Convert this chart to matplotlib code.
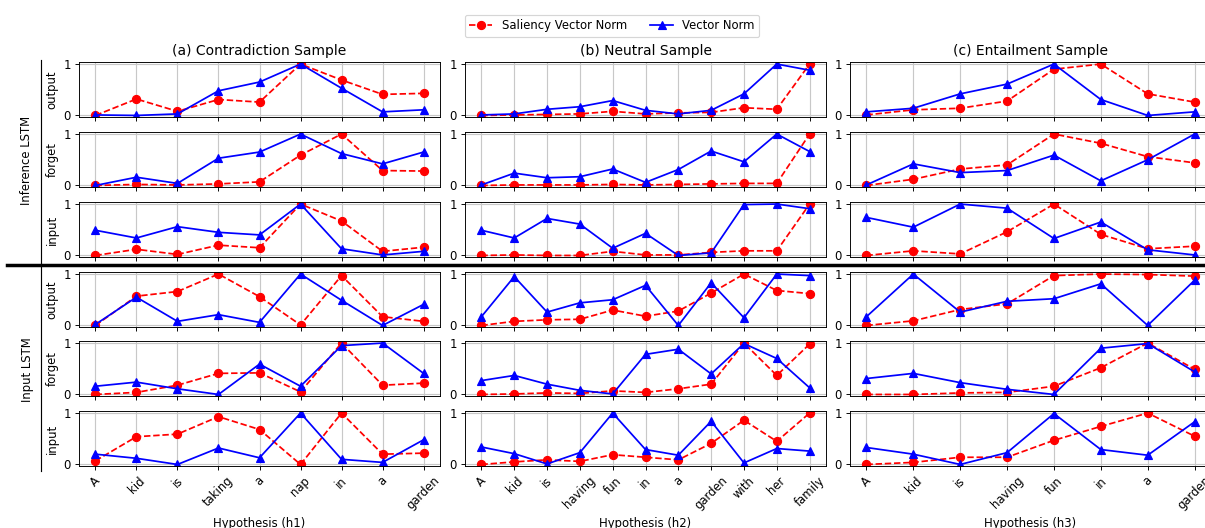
import matplotlib
matplotlib.use('Agg')
import matplotlib.pyplot as plt
from matplotlib.lines import Line2D

plt.rcParams['font.family'] = 'DejaVu Sans'
plt.rcParams['font.size'] = 10
plt.rcParams['grid.color'] = '#c8c8c8'
plt.rcParams['grid.linewidth'] = 1.0
plt.rcParams['axes.axisbelow'] = True

# words of each hypothesis
h1_words = ['A', 'kid', 'is', 'taking', 'a', 'nap', 'in', 'a', 'garden']
h2_words = ['A', 'kid', 'is', 'having', 'fun', 'in', 'a', 'garden', 'with', 'her', 'family']
h3_words = ['A', 'kid', 'is', 'having', 'fun', 'in', 'a', 'garden']

titles = ['(a) Contradiction Sample', '(b) Neutral Sample', '(c) Entailment Sample']
xlabels = ['Hypothesis (h1)', 'Hypothesis (h2)', 'Hypothesis (h3)']
gates = ['output', 'forget', 'input', 'output', 'forget', 'input']

# (a) contradiction - saliency vector norm / vector norm
h1_inf_output_sal = [0.0, 0.32, 0.08, 0.31, 0.26, 1.0, 0.69, 0.41, 0.43]
h1_inf_output_vec = [0.01, 0.0, 0.03, 0.48, 0.65, 1.0, 0.53, 0.07, 0.11]
h1_inf_forget_sal = [0.0, 0.02, 0.01, 0.03, 0.07, 0.59, 1.0, 0.29, 0.28]
h1_inf_forget_vec = [0.0, 0.16, 0.04, 0.53, 0.65, 1.0, 0.62, 0.42, 0.65]
h1_inf_input_sal = [0.0, 0.12, 0.02, 0.2, 0.15, 1.0, 0.67, 0.08, 0.16]
h1_inf_input_vec = [0.49, 0.34, 0.56, 0.45, 0.4, 1.0, 0.13, 0.01, 0.08]
h1_inp_output_sal = [0.0, 0.57, 0.66, 1.0, 0.56, 0.01, 0.97, 0.17, 0.08]
h1_inp_output_vec = [0.02, 0.55, 0.08, 0.21, 0.06, 1.0, 0.49, 0.0, 0.41]
h1_inp_forget_sal = [0.0, 0.04, 0.18, 0.41, 0.42, 0.05, 1.0, 0.18, 0.22]
h1_inp_forget_vec = [0.16, 0.24, 0.11, 0.0, 0.59, 0.16, 0.95, 1.0, 0.41]
h1_inp_input_sal = [0.07, 0.54, 0.59, 0.93, 0.68, 0.0, 1.0, 0.2, 0.22]
h1_inp_input_vec = [0.2, 0.12, 0.0, 0.32, 0.13, 1.0, 0.1, 0.04, 0.48]

# (b) neutral
h2_inf_output_sal = [0.0, 0.01, 0.02, 0.03, 0.08, 0.03, 0.05, 0.06, 0.15, 0.12, 1.0]
h2_inf_output_vec = [0.01, 0.03, 0.12, 0.17, 0.29, 0.1, 0.03, 0.1, 0.42, 1.0, 0.88]
h2_inf_forget_sal = [0.0, 0.01, 0.01, 0.01, 0.02, 0.01, 0.02, 0.03, 0.04, 0.04, 1.0]
h2_inf_forget_vec = [0.01, 0.24, 0.15, 0.17, 0.32, 0.06, 0.31, 0.67, 0.46, 1.0, 0.66]
h2_inf_input_sal = [0.0, 0.01, 0.0, 0.0, 0.08, 0.01, 0.01, 0.06, 0.09, 0.09, 1.0]
h2_inf_input_vec = [0.49, 0.34, 0.72, 0.61, 0.14, 0.43, 0.0, 0.05, 0.99, 1.0, 0.91]
h2_inp_output_sal = [0.0, 0.08, 0.11, 0.12, 0.3, 0.18, 0.28, 0.63, 1.0, 0.68, 0.62]
h2_inp_output_vec = [0.17, 0.95, 0.26, 0.44, 0.5, 0.78, 0.0, 0.83, 0.15, 1.0, 0.97]
h2_inp_forget_sal = [0.0, 0.01, 0.03, 0.02, 0.07, 0.04, 0.11, 0.2, 1.0, 0.37, 0.98]
h2_inp_forget_vec = [0.27, 0.37, 0.2, 0.08, 0.01, 0.78, 0.88, 0.4, 0.99, 0.7, 0.13]
h2_inp_input_sal = [0.0, 0.05, 0.09, 0.06, 0.19, 0.14, 0.09, 0.41, 0.86, 0.45, 1.0]
h2_inp_input_vec = [0.34, 0.21, 0.01, 0.23, 1.0, 0.29, 0.18, 0.84, 0.03, 0.31, 0.26]

# (c) entailment
h3_inf_output_sal = [0.01, 0.11, 0.14, 0.28, 0.9, 1.0, 0.42, 0.26]
h3_inf_output_vec = [0.07, 0.14, 0.42, 0.61, 1.0, 0.31, 0.0, 0.07]
h3_inf_forget_sal = [0.0, 0.12, 0.32, 0.4, 1.0, 0.82, 0.56, 0.44]
h3_inf_forget_vec = [0.01, 0.42, 0.25, 0.29, 0.59, 0.09, 0.5, 1.0]
h3_inf_input_sal = [0.0, 0.09, 0.03, 0.46, 1.0, 0.41, 0.13, 0.18]
h3_inf_input_vec = [0.74, 0.55, 1.0, 0.92, 0.33, 0.65, 0.11, 0.01]
h3_inp_output_sal = [0.0, 0.09, 0.31, 0.42, 0.97, 1.0, 0.99, 0.96]
h3_inp_output_vec = [0.17, 1.0, 0.26, 0.47, 0.52, 0.81, 0.0, 0.88]
h3_inp_forget_sal = [0.0, 0.0, 0.03, 0.04, 0.16, 0.52, 1.0, 0.49]
h3_inp_forget_vec = [0.31, 0.41, 0.23, 0.1, 0.0, 0.9, 0.99, 0.44]
h3_inp_input_sal = [0.0, 0.04, 0.14, 0.14, 0.47, 0.74, 1.0, 0.55]
h3_inp_input_vec = [0.33, 0.2, 0.0, 0.23, 0.99, 0.29, 0.18, 0.83]

words = [h1_words, h2_words, h3_words]
saliency = [
    [h1_inf_output_sal, h1_inf_forget_sal, h1_inf_input_sal, h1_inp_output_sal, h1_inp_forget_sal, h1_inp_input_sal],
    [h2_inf_output_sal, h2_inf_forget_sal, h2_inf_input_sal, h2_inp_output_sal, h2_inp_forget_sal, h2_inp_input_sal],
    [h3_inf_output_sal, h3_inf_forget_sal, h3_inf_input_sal, h3_inp_output_sal, h3_inp_forget_sal, h3_inp_input_sal],
]
vector = [
    [h1_inf_output_vec, h1_inf_forget_vec, h1_inf_input_vec, h1_inp_output_vec, h1_inp_forget_vec, h1_inp_input_vec],
    [h2_inf_output_vec, h2_inf_forget_vec, h2_inf_input_vec, h2_inp_output_vec, h2_inp_forget_vec, h2_inp_input_vec],
    [h3_inf_output_vec, h3_inf_forget_vec, h3_inf_input_vec, h3_inp_output_vec, h3_inp_forget_vec, h3_inp_input_vec],
]

W, H = 1205, 528
DPI = 83.34
fig = plt.figure(figsize=(W / DPI, H / DPI), dpi=DPI)

# panel layout in pixels
col_left = [79, 465, 850]
row_top = [62, 132, 202, 272, 341, 411]
ax_w, ax_h = 361, 55

for c in range(3):
    x = list(range(len(words[c])))
    for r in range(6):
        ax = fig.add_axes([col_left[c] / W, 1 - (row_top[r] + ax_h) / H, ax_w / W, ax_h / H])
        ax.plot(x, saliency[c][r], 'r--o', markersize=7, linewidth=1.5, label='Saliency Vector Norm')
        ax.plot(x, vector[c][r], 'b-^', markersize=7, linewidth=1.5, label='Vector Norm')
        ax.set_ylim(-0.03, 1.04)
        ax.set_yticks([0, 1])
        ax.set_xticks(x)
        ax.grid(True)
        if c == 0:
            ax.set_ylabel(gates[r])
        if r == 0:
            ax.set_title(titles[c], fontsize=12)
        if r < 5:
            ax.set_xticklabels([])
        else:
            ax.set_xticklabels(words[c], rotation=45)
            ax.set_xlabel(xlabels[c])

handles, labels = ax.get_legend_handles_labels()
fig.legend(handles, labels, loc='upper center', bbox_to_anchor=(612 / W, 1 - 9 / H), ncol=2)

# group labels and separators
fig.text(27 / W, 1 - 160 / H, 'Inference LSTM', rotation=90, ha='center', va='center')
fig.text(27 / W, 1 - 370 / H, 'Input LSTM', rotation=90, ha='center', va='center')
fig.add_artist(Line2D([40.5 / W, 40.5 / W], [1 - 60 / H, 1 - 265 / H], color='k', linewidth=1.0, transform=fig.transFigure))
fig.add_artist(Line2D([40.5 / W, 40.5 / W], [1 - 265 / H, 1 - 471 / H], color='k', linewidth=1.0, transform=fig.transFigure))
fig.add_artist(Line2D([7 / W, 1.0], [1 - 265 / H, 1 - 265 / H], color='k', linewidth=3.0, transform=fig.transFigure))

plt.savefig('out.png', dpi=DPI)
